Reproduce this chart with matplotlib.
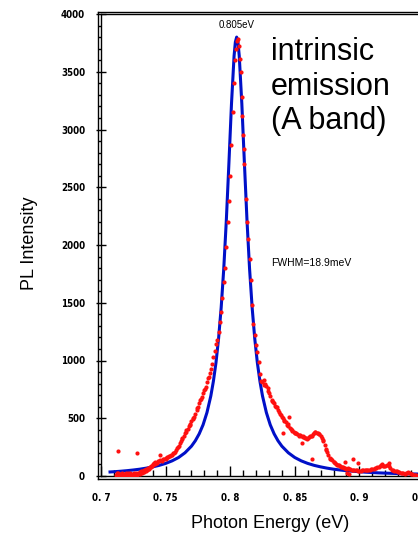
"""
PL spectrum of the intrinsic emission (A band): measured points and Lorentzian fit.
"""
import matplotlib
matplotlib.use("Agg")
import matplotlib.pyplot as plt
from matplotlib.ticker import MultipleLocator, FixedLocator

plt.rcParams["font.family"] = ["Liberation Sans", "DejaVu Sans"]

# ── Data ──────────────────────────────────────────────────────────────────────

# measured PL points (red)
data_x = [
    0.7115, 0.712, 0.7125, 0.713, 0.7135, 0.714, 0.7145, 0.715, 0.7155, 0.716,
    0.7165, 0.717, 0.7175, 0.718, 0.7185, 0.719, 0.7195, 0.720, 0.7205, 0.721,
    0.7215, 0.722, 0.7225, 0.723, 0.7235, 0.724, 0.7245, 0.725, 0.7255, 0.726,
    0.7265, 0.727, 0.7275, 0.728, 0.7285, 0.729, 0.7295, 0.730, 0.7305, 0.731,
    0.7315, 0.732, 0.7325, 0.733, 0.7335, 0.734, 0.7345, 0.735, 0.7355, 0.736,
    0.7365, 0.737, 0.7375, 0.738, 0.7385, 0.739, 0.7395, 0.740, 0.7405, 0.741,
    0.7415, 0.742, 0.743, 0.744, 0.745, 0.746, 0.747, 0.748, 0.749, 0.750,
    0.751, 0.752, 0.753, 0.754, 0.755, 0.756, 0.757, 0.758, 0.759, 0.760,
    0.761, 0.762, 0.763, 0.764, 0.765, 0.766, 0.767, 0.768, 0.769, 0.770,
    0.771, 0.772, 0.773, 0.774, 0.775, 0.776, 0.777, 0.778, 0.779, 0.780,
    0.781, 0.782, 0.783, 0.784, 0.785, 0.786, 0.787, 0.788, 0.789, 0.790,
    0.791, 0.792, 0.793, 0.794, 0.795, 0.796, 0.797, 0.798, 0.799, 0.800,
    0.801, 0.802, 0.803, 0.804, 0.8045, 0.805, 0.806, 0.807, 0.8075, 0.808,
    0.809, 0.8095, 0.810, 0.8105, 0.811, 0.812, 0.813, 0.814, 0.815, 0.816,
    0.817, 0.818, 0.819, 0.820, 0.821, 0.822, 0.823, 0.824, 0.825, 0.826,
    0.827, 0.828, 0.829, 0.830, 0.831, 0.832, 0.833, 0.834, 0.835, 0.836,
    0.837, 0.838, 0.839, 0.840, 0.841, 0.842, 0.843, 0.844, 0.845, 0.846,
    0.847, 0.848, 0.849, 0.850, 0.851, 0.852, 0.853, 0.854, 0.855, 0.856,
    0.857, 0.858, 0.859, 0.860, 0.861, 0.862, 0.863, 0.864, 0.865, 0.866,
    0.867, 0.868, 0.869, 0.870, 0.871, 0.872, 0.873, 0.874, 0.875, 0.876,
    0.877, 0.878, 0.879, 0.880, 0.881, 0.882, 0.883, 0.884, 0.885, 0.886,
    0.887, 0.888, 0.889, 0.890, 0.891, 0.892, 0.893, 0.894, 0.895, 0.896,
    0.897, 0.898, 0.899, 0.900, 0.901, 0.902, 0.903, 0.904, 0.905, 0.906,
    0.907, 0.908, 0.909, 0.910, 0.911, 0.912, 0.913, 0.914, 0.915, 0.916,
    0.917, 0.918, 0.919, 0.920, 0.921, 0.922, 0.923, 0.924, 0.925, 0.926,
    0.927, 0.928, 0.929, 0.930, 0.931, 0.932, 0.933, 0.934, 0.935, 0.936,
    0.937, 0.938, 0.939, 0.940, 0.941, 0.942, 0.943, 0.944, 0.946, 0.948,
    # second band of points on the flanks
    0.7505, 0.7535, 0.7565, 0.7595, 0.7625, 0.7655, 0.7685, 0.7715, 0.7745,
    0.7775, 0.7805, 0.7835, 0.8265, 0.8295, 0.8325, 0.8355, 0.8385, 0.8415,
    0.8445, 0.8475, 0.8505, 0.8535, 0.8565, 0.8595, 0.8625, 0.8655, 0.8685,
    0.8715, 0.8745, 0.8775, 0.8805, 0.8835, 0.8865,
    # stray points
    0.713, 0.728, 0.746, 0.841, 0.8453, 0.8555, 0.8633, 0.889, 0.8954, 0.8993,
    0.9173, 0.9232, 0.8903, 0.8916,
]
data_y = [
    8, 22, 3, 15, 30, 6, 12, 20, 2, 14,
    25, 8, 18, 4, 12, 28, 6, 16, 10, 22,
    4, 14, 26, 9, 18, 5, 20, 12, 28, 8,
    16, 24, 10, 18, 30, 14, 22, 35, 18, 40,
    28, 45, 32, 50, 38, 55, 44, 60, 52, 66,
    58, 72, 64, 80, 74, 88, 84, 96, 104, 115,
    108, 120, 112, 126, 130, 138, 134, 145, 150, 155,
    162, 168, 172, 178, 185, 200, 212, 225, 245, 262,
    285, 305, 330, 350, 372, 395, 410, 432, 452, 472,
    495, 512, 540, 568, 600, 628, 655, 680, 715, 745,
    770, 810, 845, 890, 930, 968, 1030, 1085, 1140, 1180,
    1250, 1330, 1420, 1540, 1680, 1800, 1980, 2200, 2380, 2600,
    2870, 3150, 3400, 3600, 3700, 3770, 3780, 3720, 3607, 3500,
    3280, 3120, 2950, 2830, 2700, 2400, 2200, 2050, 1880, 1700,
    1480, 1320, 1220, 1130, 1070, 990, 880, 820, 810, 830,
    800, 775, 740, 720, 690, 660, 640, 628, 610, 595,
    570, 550, 530, 510, 498, 480, 465, 445, 430, 418,
    405, 392, 383, 375, 370, 362, 358, 352, 350, 345,
    338, 332, 328, 330, 338, 342, 350, 360, 372, 380,
    375, 370, 360, 345, 325, 300, 270, 235, 205, 180,
    160, 145, 135, 124, 112, 104, 98, 92, 88, 80,
    76, 70, 66, 64, 66, 60, 58, 55, 52, 54,
    50, 48, 46, 44, 46, 48, 50, 52, 50, 52,
    54, 56, 58, 60, 64, 66, 70, 76, 82, 90,
    95, 88, 84, 86, 92, 96, 90, 70, 52, 48,
    46, 42, 40, 37, 34, 30, 28, 22, 18, 24,
    30, 36, 28, 18, 14, 10, 9, 12, 8, 10,
    150, 175, 195, 255, 318, 385, 440, 500, 585,
    670, 757, 860, 790, 760, 650, 600, 540, 485,
    450, 400, 372, 350, 335, 322, 345, 378, 365,
    315, 222, 150, 118, 95, 78,
    216, 199, 181, 368, 512, 282, 144, 118, 147, 115,
    104, 110, 29, 17,
]

# fitted curve (blue)
fit_x = [
    0.707, 0.710, 0.715, 0.720, 0.725, 0.730, 0.735, 0.740, 0.745, 0.750,
    0.755, 0.760, 0.765, 0.770, 0.773, 0.776, 0.779, 0.782, 0.785, 0.787,
    0.789, 0.791, 0.793, 0.795, 0.797, 0.799, 0.801, 0.803, 0.804, 0.805,
    0.806, 0.807, 0.809, 0.811, 0.813, 0.815, 0.817, 0.819, 0.821, 0.823,
    0.825, 0.828, 0.831, 0.834, 0.837, 0.840, 0.845, 0.850, 0.855, 0.860,
    0.865, 0.870, 0.875, 0.880, 0.885, 0.890, 0.895, 0.900, 0.905, 0.910,
    0.915, 0.920, 0.925, 0.930, 0.935, 0.940, 0.945, 0.950,
]
fit_y = [
    35, 37, 41, 46, 52, 59, 68, 79, 92, 109,
    131, 160, 201, 258, 305, 365, 443, 549, 693, 821,
    982, 1190, 1456, 1792, 2213, 2708, 3223, 3637, 3758, 3800,
    3758, 3637, 3223, 2708, 2213, 1792, 1456, 1190, 982, 821,
    693, 549, 443, 365, 305, 258, 201, 160, 131, 109,
    92, 79, 68, 59, 52, 46, 41, 37, 33, 30,
    27, 25, 23, 21, 19, 18, 17, 15,
]

x_ticks = [0.70, 0.75, 0.80, 0.85, 0.90, 0.95]
x_tick_labels = ["0. 7", "0. 75", "0. 8", "0. 85", "0. 9", "0. 95"]
y_ticks = [0, 500, 1000, 1500, 2000, 2500, 3000, 3500, 4000]

# ── Figure ────────────────────────────────────────────────────────────────────

W, H = 418, 536
fig = plt.figure(figsize=(W / 100, H / 100), dpi=100)


def px_rect(left, top, right, bottom):
    return [left / W, 1 - bottom / H, (right - left) / W, (bottom - top) / H]


# outer frame line (gives the doubled border)
frame = fig.add_axes(px_rect(98, 12, 427, 479))
frame.set_xticks([])
frame.set_yticks([])
for s in frame.spines.values():
    s.set_linewidth(1.0)

ax = fig.add_axes(px_rect(101, 14, 424, 476))
ax.patch.set_alpha(0)
for s in ax.spines.values():
    s.set_linewidth(1.0)

ax.plot(fit_x, fit_y, color="#0010c8", lw=2.2, zorder=3)
ax.plot(data_x, data_y, "o", color="#ff1010", ms=3.0, mec="none", zorder=4)

ax.set_xlim(0.70, 0.95)
ax.set_ylim(0, 4000)

tick_font = dict(family="DejaVu Sans", stretch="condensed",
                 weight="bold", size=7)
ax.xaxis.set_major_locator(FixedLocator(x_ticks))
ax.set_xticklabels(x_tick_labels, **tick_font)
ax.xaxis.set_minor_locator(MultipleLocator(0.01))
ax.set_yticks(y_ticks)
ax.set_yticklabels([str(v) for v in y_ticks], **tick_font)
ax.yaxis.set_minor_locator(MultipleLocator(100))

ax.tick_params(axis="x", which="major", direction="in", length=7, width=1, pad=12)
ax.tick_params(axis="x", which="minor", direction="in", length=4, width=1)
ax.tick_params(axis="y", which="major", direction="inout", length=7, width=1,
               pad=8, right=True)
ax.tick_params(axis="y", which="minor", direction="out", length=2.5, width=1)

ax.text(0.805, 3905, "0.805eV", ha="center", va="center", fontsize=7)

fig.text(271 / W, 1 - 263 / H, "FWHM=18.9meV", ha="left", va="center", fontsize=7.5)
fig.text(271 / W, 1 - 37 / H, "intrinsic\nemission\n(A band)",
         ha="left", va="top", fontsize=22, linespacing=1.2)

fig.text(30 / W, 1 - 243 / H, "PL Intensity", rotation=90,
         ha="center", va="center", fontsize=13)
fig.text(270 / W, 1 - 523 / H, "Photon Energy (eV)",
         ha="center", va="center", fontsize=13)

fig.savefig("out.png", dpi=100)
plt.close(fig)
